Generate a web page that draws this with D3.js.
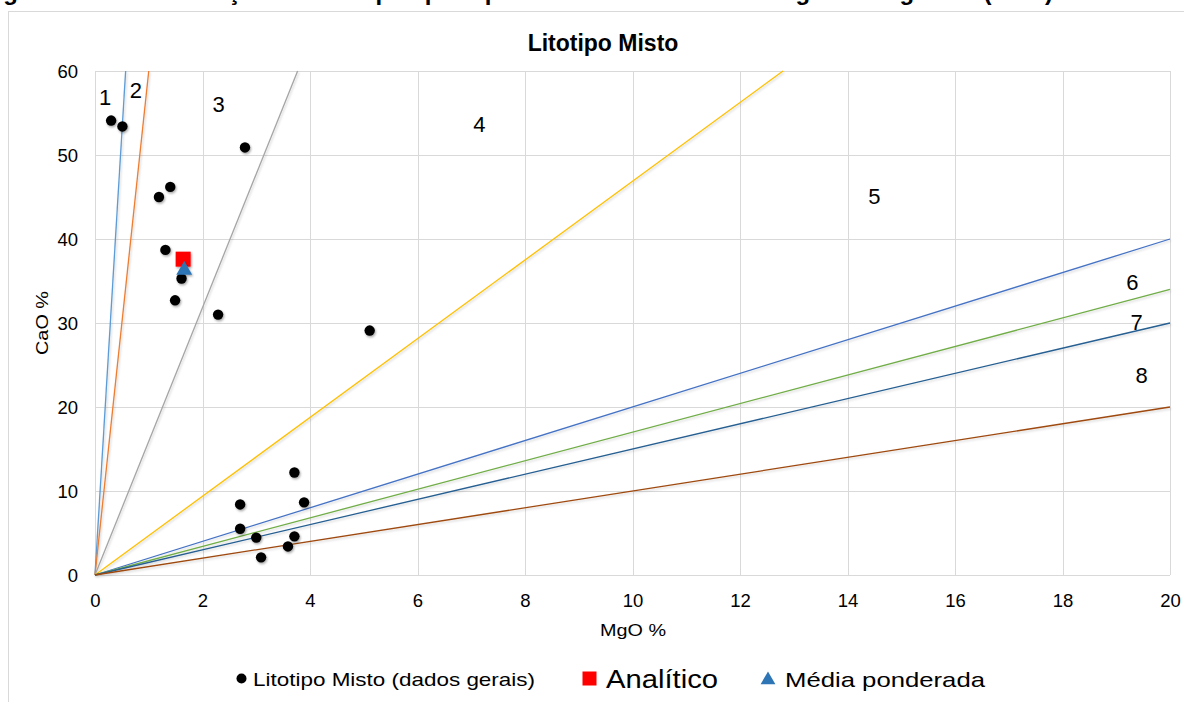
<!DOCTYPE html>
<html>
<head>
<meta charset="utf-8">
<script src="https://cdn.jsdelivr.net/npm/d3@7/dist/d3.min.js"></script>
<style>
  html, body { margin: 0; padding: 0; background: #fff; }
  svg { display: block; font-family: Arial, "Liberation Sans", Helvetica, sans-serif; }
</style>
</head>
<body>
<svg id="chart" width="1184" height="702"></svg>
<script>
// ---- data ----
const captionText = "Figura 18 – Classificação dos litotipos por tipo de rocha carbonática segundo Bigarella (1956)";
const chartTitle = "Litotipo Misto";
const xTitle = "MgO %";
const yTitle = "CaO %";
const xTicks = [0, 2, 4, 6, 8, 10, 12, 14, 16, 18, 20];
const yTicks = [0, 10, 20, 30, 40, 50, 60];

// general data points (MgO %, CaO %)
const mgoGeral = [0.30, 0.51, 2.79, 1.40, 1.19, 1.31, 1.61, 1.49, 2.29, 5.11, 3.71, 2.70, 3.89, 2.70, 3.00, 3.71, 3.59, 3.09];
const caoGeral = [54.1, 53.4, 50.9, 46.2, 45.0, 38.7, 35.3, 32.7, 31.0, 29.1, 12.2, 8.4, 8.65, 5.5, 4.45, 4.6, 3.4, 2.1];

const analitico = [[1.64, 37.6]];
const mediaPonderada = [[1.66, 36.3]];

// classification boundary lines: from origin to end point
const lineNames = ["1", "2", "3", "4", "5", "6", "7", "8"];
const lineEndMgO = [0.57, 1.0, 3.77, 12.8, 20, 20, 20, 20];
const lineEndCaO = [60, 60, 60, 60, 40, 34, 30, 20];
const lineColors = ["#5B9BD5", "#ED7D31", "#A5A5A5", "#FFC000", "#4472C4", "#70AD47", "#255E91", "#9E480E"];

// region labels (MgO, CaO positions)
const regionLabels = ["1", "2", "3", "4", "5", "6", "7", "8"];
const regionX = [0.19, 0.76, 2.30, 7.15, 14.5, 19.3, 19.38, 19.47];
const regionY = [56.9, 57.7, 56.0, 53.6, 45.1, 34.8, 30.1, 23.7];

const legendLabels = ["Litotipo Misto (dados gerais)", "Analítico", "Média ponderada"];

// ---- drawing ----
const svg = d3.select("#chart");

const defs = svg.append("defs");
const sh = defs.append("filter").attr("id", "shadow").attr("x", "-50%").attr("y", "-50%").attr("width", "200%").attr("height", "200%");
sh.append("feDropShadow").attr("dx", 1).attr("dy", 1.5).attr("stdDeviation", 1.3).attr("flood-color", "#000").attr("flood-opacity", 0.35);
const lsh = defs.append("filter").attr("id", "lshadow").attr("x", "-10%").attr("y", "-10%").attr("width", "120%").attr("height", "120%");
lsh.append("feDropShadow").attr("dx", 1).attr("dy", 1.5).attr("stdDeviation", 1.2).attr("flood-color", "#000").attr("flood-opacity", 0.18);

// caption (cropped at top, only descenders visible)
svg.append("text")
  .attr("x", -18).attr("y", -0.5)
  .attr("font-size", 24).attr("font-weight", "bold")
  .attr("fill", "#000")
  .text(captionText);

// chart border
svg.append("rect")
  .attr("x", 8.5).attr("y", 11.5)
  .attr("width", 1190).attr("height", 720)
  .attr("fill", "none").attr("stroke", "#d9d9d9").attr("stroke-width", 1);

const x = d3.scaleLinear().domain([0, 20]).range([95, 1170]);
const y = d3.scaleLinear().domain([0, 60]).range([575, 71]);

// gridlines
const grid = svg.append("g");
grid.selectAll(".vg").data(xTicks).join("line")
  .attr("x1", d => Math.round(x(d)) + 0.5).attr("x2", d => Math.round(x(d)) + 0.5)
  .attr("y1", y(60)).attr("y2", y(0))
  .attr("stroke", "#d9d9d9").attr("stroke-width", 1);
grid.selectAll(".hg").data(yTicks).join("line")
  .attr("x1", x(0)).attr("x2", x(20))
  .attr("y1", d => Math.round(y(d)) + 0.5).attr("y2", d => Math.round(y(d)) + 0.5)
  .attr("stroke", "#d9d9d9").attr("stroke-width", 1);

// axes (labels only)
const xAxis = d3.axisBottom(x).tickValues(xTicks).tickSize(0).tickPadding(0).tickFormat(d3.format("d"));
const gx = svg.append("g").attr("transform", `translate(0,${y(0)})`).call(xAxis);
gx.select(".domain").remove();
gx.selectAll("text").attr("dy", null).attr("y", 32).attr("font-size", 18.5).attr("fill", "#000").attr("font-family", "Arial, 'Liberation Sans', sans-serif");

const yAxis = d3.axisLeft(y).tickValues(yTicks).tickSize(0).tickPadding(0).tickFormat(d3.format("d"));
const gy = svg.append("g").attr("transform", `translate(${x(0)},0)`).call(yAxis);
gy.select(".domain").remove();
gy.selectAll("text").attr("x", -17).attr("dy", "0.35em").attr("font-size", 18.5).attr("fill", "#000").attr("font-family", "Arial, 'Liberation Sans', sans-serif");

// classification lines
const lineData = lineNames.map((n, i) => ({ n, x2: lineEndMgO[i], y2: lineEndCaO[i], c: lineColors[i] }));
svg.append("g").attr("filter", "url(#lshadow)")
  .selectAll("line").data(lineData).join("line")
  .attr("x1", x(0)).attr("y1", y(0))
  .attr("x2", d => x(d.x2)).attr("y2", d => y(d.y2))
  .attr("stroke", d => d.c).attr("stroke-width", 1.3);

// region labels
svg.append("g").selectAll("text").data(regionLabels).join("text")
  .attr("x", (d, i) => x(regionX[i])).attr("y", (d, i) => y(regionY[i]))
  .attr("text-anchor", "middle").attr("dominant-baseline", "central")
  .attr("font-size", 22).attr("fill", "#000")
  .text(d => d);

// general points
const pts = mgoGeral.map((m, i) => [m, caoGeral[i]]);
svg.append("g").attr("filter", "url(#shadow)")
  .selectAll("circle").data(pts).join("circle")
  .attr("cx", d => x(d[0])).attr("cy", d => y(d[1]))
  .attr("r", 5.2).attr("fill", "#000");

// analitico square
svg.append("g").attr("filter", "url(#shadow)")
  .selectAll("rect").data(analitico).join("rect")
  .attr("x", d => x(d[0]) - 7.5).attr("y", d => y(d[1]) - 7.5)
  .attr("width", 15).attr("height", 15).attr("fill", "#FF0000");

// media ponderada triangle
const tri = d3.symbol().type(d3.symbolTriangle).size(110);
svg.append("g").attr("filter", "url(#shadow)")
  .selectAll("path").data(mediaPonderada).join("path")
  .attr("transform", d => `translate(${x(d[0])},${y(d[1])})`)
  .attr("d", tri).attr("fill", "#2E75B6");

// titles
svg.append("text").attr("x", 603).attr("y", 51).attr("text-anchor", "middle")
  .attr("font-size", 23).attr("font-weight", "bold").attr("fill", "#000").text(chartTitle);
svg.append("text").attr("x", 633).attr("y", 636).attr("text-anchor", "middle")
  .attr("font-size", 17).attr("fill", "#000").attr("textLength", 66).attr("lengthAdjust", "spacingAndGlyphs").text(xTitle);
svg.append("text").attr("transform", "translate(48,323) rotate(-90)").attr("text-anchor", "middle")
  .attr("font-size", 17).attr("fill", "#000").attr("textLength", 64).attr("lengthAdjust", "spacingAndGlyphs").text(yTitle);

// legend
const lg = svg.append("g");
lg.append("circle").attr("cx", 241.5).attr("cy", 678.5).attr("r", 5).attr("fill", "#000");
lg.append("text").attr("x", 253).attr("y", 686).attr("font-size", 19).attr("fill", "#000")
  .attr("textLength", 282).attr("lengthAdjust", "spacingAndGlyphs").text(legendLabels[0]);
lg.append("rect").attr("x", 582.5).attr("y", 671.5).attr("width", 14).attr("height", 14).attr("fill", "#FF0000");
lg.append("text").attr("x", 606).attr("y", 688).attr("font-size", 26).attr("fill", "#000")
  .attr("textLength", 112).attr("lengthAdjust", "spacingAndGlyphs").text(legendLabels[1]);
lg.append("path").attr("transform", "translate(768,680)").attr("d", d3.symbol().type(d3.symbolTriangle).size(95)).attr("fill", "#2E75B6");
lg.append("text").attr("x", 785).attr("y", 687).attr("font-size", 21).attr("fill", "#000")
  .attr("textLength", 200).attr("lengthAdjust", "spacingAndGlyphs").text(legendLabels[2]);
</script>
</body>
</html>
